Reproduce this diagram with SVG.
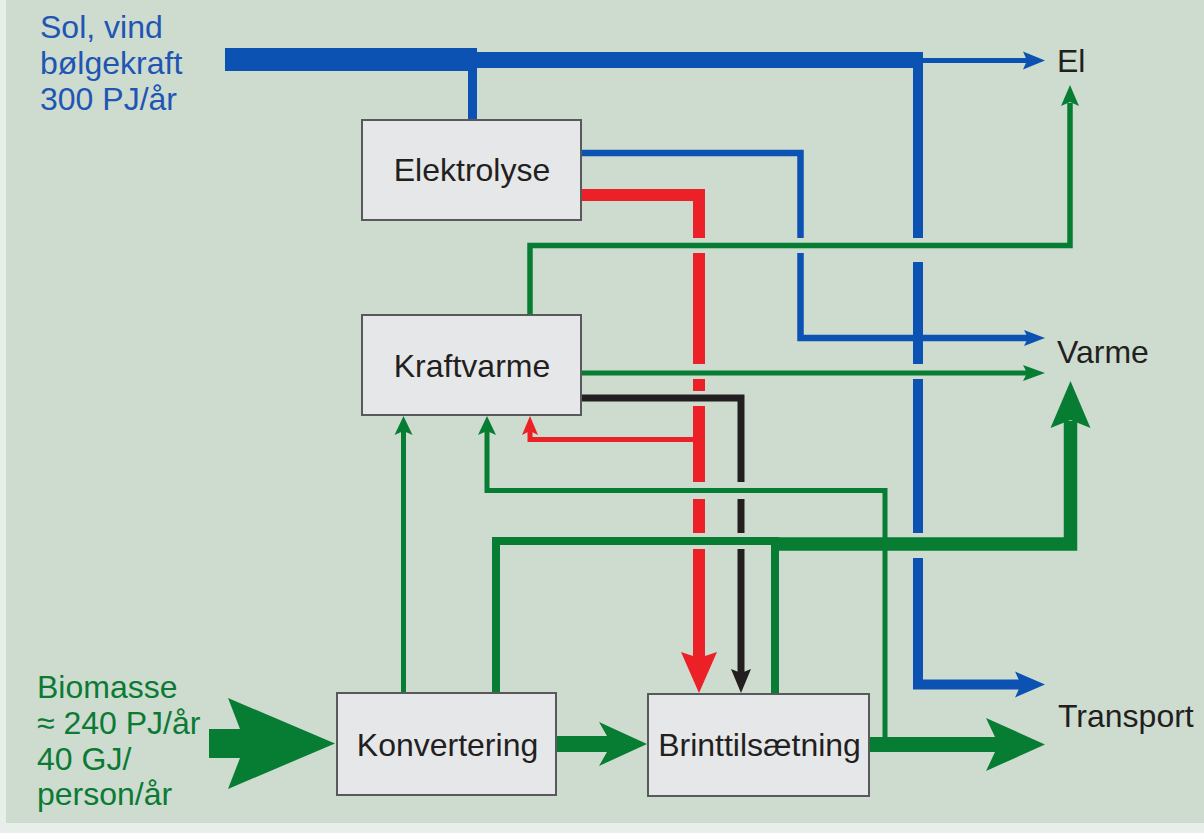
<svg xmlns="http://www.w3.org/2000/svg" width="1204" height="833" viewBox="0 0 1204 833">
<style>
.box{fill:#e6e7e8;stroke:#58595b;stroke-width:2}
.t{font-family:"Liberation Sans",Arial,sans-serif;font-size:32px;fill:#231f20}
.tb{font-family:"Liberation Sans",Arial,sans-serif;font-size:32px;fill:#1f55b3}
.tg{font-family:"Liberation Sans",Arial,sans-serif;font-size:32px;fill:#0c7a34}
.ln{fill:none;stroke-linejoin:miter;stroke-linecap:butt}
.b{stroke:#0b52b2}.g{stroke:#077d33}.r{stroke:#ec2027}.k{stroke:#231f20}
.fb{fill:#0b52b2}.fg{fill:#077d33}.fr{fill:#ec2027}.fk{fill:#231f20}
</style>
<rect x="0" y="0" width="1204" height="833" fill="#e8eee9"/>
<rect x="6" y="0" width="1198" height="823" fill="#cddccf"/>

<g id="connectors">
  <!-- blue main supply -->
  <rect x="225" y="48" width="252" height="23" class="fb"/>
  <rect x="477" y="52" width="446" height="16" class="fb"/>
  <line x1="472.5" y1="60" x2="472.5" y2="121" class="ln b" stroke-width="9"/>
  <line x1="923" y1="60.5" x2="1027" y2="60.5" class="ln b" stroke-width="5"/>
  <polygon points="1045,60.5 1023,51.5 1027,60.5 1023,69.5" class="fb"/>
  <!-- blue vertical to transport, with gaps -->
  <line x1="918" y1="52" x2="918" y2="238" class="ln b" stroke-width="10"/>
  <line x1="918" y1="262" x2="918" y2="364" class="ln b" stroke-width="10"/>
  <line x1="918" y1="379" x2="918" y2="533" class="ln b" stroke-width="10"/>
  <polyline points="918,558 918,684.5 1021,684.5" class="ln b" stroke-width="10"/>
  <polygon points="1045,684.5 1015,671.5 1021,684.5 1015,697.5" class="fb"/>
  <!-- blue Elektrolyse to Varme -->
  <polyline points="581,153 800.5,153 800.5,238" class="ln b" stroke-width="6.5"/>
  <polyline points="800.5,253 800.5,338 1028,338" class="ln b" stroke-width="6.5"/>
  <polygon points="1045,338 1024,330 1028,338 1024,346" class="fb"/>

  <!-- green Kraftvarme to El -->
  <polyline points="530,315 530,245.5 1070,245.5 1070,103" class="ln g" stroke-width="5.5"/>
  <polygon points="1070,85 1061,106 1070,102 1079,106" class="fg"/>
  <!-- green Kraftvarme to Varme -->
  <line x1="581" y1="373" x2="1027" y2="373" class="ln g" stroke-width="5"/>
  <polygon points="1045,373 1023,365 1027,373 1023,381" class="fg"/>

  <!-- red Elektrolyse to Brinttilsaetning -->
  <polyline points="581,195 699,195 699,238" class="ln r" stroke-width="12"/>
  <line x1="699" y1="253" x2="699" y2="364" class="ln r" stroke-width="12"/>
  <line x1="699" y1="379" x2="699" y2="391" class="ln r" stroke-width="12"/>
  <line x1="699" y1="406" x2="699" y2="482" class="ln r" stroke-width="12"/>
  <line x1="699" y1="499" x2="699" y2="533" class="ln r" stroke-width="12"/>
  <line x1="699" y1="549" x2="699" y2="659" class="ln r" stroke-width="12"/>
  <polygon points="699,693 681,652 699,658 717,652" class="fr"/>
  <!-- red branch to Kraftvarme -->
  <polyline points="699,439.5 530,439.5 530,431" class="ln r" stroke-width="5"/>
  <polygon points="530,416 522,435 530,431 538,435" class="fr"/>

  <!-- black Kraftvarme to Brinttilsaetning -->
  <polyline points="581,398 741,398 741,482" class="ln k" stroke-width="7"/>
  <line x1="741" y1="499" x2="741" y2="533" class="ln k" stroke-width="7"/>
  <line x1="741" y1="549" x2="741" y2="674" class="ln k" stroke-width="7"/>
  <polygon points="741,693 731,669 741,673 751,669" class="fk"/>

  <!-- green Konvertering to Kraftvarme -->
  <line x1="403.5" y1="693" x2="403.5" y2="431" class="ln g" stroke-width="5"/>
  <polygon points="403.5,416 394.5,435 403.5,431 412.5,435" class="fg"/>
  <!-- green from transport output back to Kraftvarme -->
  <polyline points="885,744 885,490.5 487,490.5 487,431" class="ln g" stroke-width="5"/>
  <polygon points="487,416 478,435 487,431 496,435" class="fg"/>
  <!-- green Konvertering / Brinttilsaetning to Varme -->
  <polyline points="496,693 496,541 779,541" class="ln g" stroke-width="8"/>
  <line x1="775" y1="694" x2="775" y2="537" class="ln g" stroke-width="8"/>
  <polyline points="771,544 1070.5,544 1070.5,421" class="ln g" stroke-width="13.5"/>
  <polygon points="1070.5,381 1050.5,428 1070.5,420 1090.5,428" class="fg"/>

  <!-- big green arrows -->
  <polygon points="209,729 240,729 228,698 335,743.5 228,789 240,758 209,758" class="fg"/>
  <polygon points="556,736 607,736 599,722 647,744 599,766 607,752 556,752" class="fg"/>
  <polygon points="869,737 995,737 986,718 1045,744.5 986,771 995,752 869,752" class="fg"/>
</g>

<g id="elektrolyse">
  <rect x="362" y="120" width="219" height="100" class="box"/>
  <text x="472" y="181" text-anchor="middle" class="t">Elektrolyse</text>
</g>
<g id="kraftvarme">
  <rect x="362" y="315" width="219" height="100" class="box"/>
  <text x="472" y="377" text-anchor="middle" class="t">Kraftvarme</text>
</g>
<g id="konvertering">
  <rect x="337" y="693" width="219" height="102" class="box"/>
  <text x="447.5" y="756" text-anchor="middle" class="t">Konvertering</text>
</g>
<g id="brinttilsaetning">
  <rect x="648" y="694" width="221" height="102" class="box"/>
  <text x="759.5" y="756" text-anchor="middle" class="t">Brinttilsætning</text>
</g>

<g id="source-sol">
  <text class="tb"><tspan x="40" y="38">Sol, vind</tspan><tspan x="40" y="74">bølgekraft</tspan><tspan x="40" y="110">300 PJ/år</tspan></text>
</g>
<g id="source-biomasse">
  <text class="tg"><tspan x="37" y="698">Biomasse</tspan><tspan x="37" y="734">≈ 240 PJ/år</tspan><tspan x="37" y="770">40 GJ/</tspan><tspan x="37" y="805">person/år</tspan></text>
</g>
<g id="out-el"><text x="1057" y="72" class="t">El</text></g>
<g id="out-varme"><text x="1057" y="363" class="t">Varme</text></g>
<g id="out-transport"><text x="1058" y="727" class="t">Transport</text></g>
</svg>
